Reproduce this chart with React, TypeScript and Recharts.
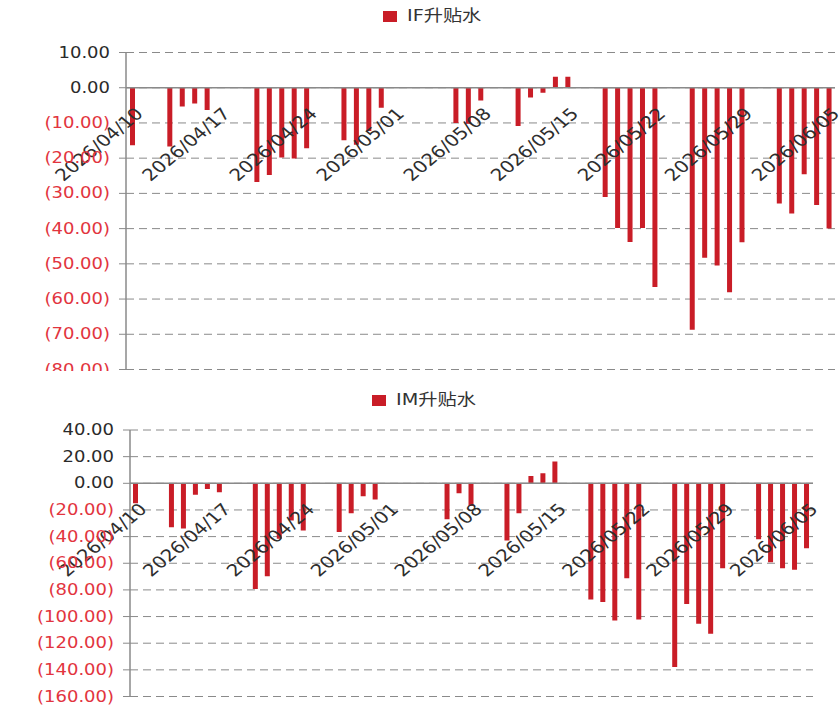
import React from 'react';
import { BarChart, Bar, XAxis, YAxis, CartesianGrid, ReferenceLine, ReferenceDot } from 'recharts';

// Trading days with a quote (weekends and the May holiday stay empty on the axis)
const tradeDates = [
  '2026/04/10',
  '2026/04/13', '2026/04/14', '2026/04/15', '2026/04/16', '2026/04/17',
  '2026/04/20', '2026/04/21', '2026/04/22', '2026/04/23', '2026/04/24',
  '2026/04/27', '2026/04/28', '2026/04/29', '2026/04/30',
  '2026/05/06', '2026/05/07', '2026/05/08',
  '2026/05/11', '2026/05/12', '2026/05/13', '2026/05/14', '2026/05/15',
  '2026/05/18', '2026/05/19', '2026/05/20', '2026/05/21', '2026/05/22',
  '2026/05/25', '2026/05/26', '2026/05/27', '2026/05/28', '2026/05/29',
  '2026/06/01', '2026/06/02', '2026/06/03', '2026/06/04', '2026/06/05',
];

// IF basis (points), aligned with tradeDates
const ifBasis = [
  -16.3,
  -16.7, -5.3, -4.5, -6.3, null,
  -26.8, -24.8, -19.8, -20.1, -17.2,
  -14.9, -16.2, -12.3, -5.7,
  -10.0, -10.2, -3.6,
  -10.9, -2.8, -1.4, 3.1, 3.1,
  -31.0, -39.8, -43.8, -39.8, -56.6,
  -68.7, -48.3, -50.5, -58.1, -43.9,
  -32.9, -35.7, -24.6, -33.3, -40.0,
];

// IM basis (points), aligned with tradeDates
const imBasis = [
  -15.0,
  -33.0, -34.0, -8.5, -4.2, -6.7,
  -79.3, -69.8, -41.6, -28.0, -35.4,
  -36.6, -22.4, -9.7, -12.2,
  -27.0, -7.5, -17.0,
  -43.0, -22.5, 5.5, 7.5, 16.4,
  -87.2, -89.0, -102.9, -71.3, -102.2,
  -137.8, -90.5, -105.4, -112.9, -63.8,
  -42.0, -59.3, -63.8, -64.8, -48.8,
];

const weekLabels = [
  '2026/04/10', '2026/04/17', '2026/04/24', '2026/05/01', '2026/05/08',
  '2026/05/15', '2026/05/22', '2026/05/29', '2026/06/05',
];

const ifTicks = [10, 0, -10, -20, -30, -40, -50, -60, -70, -80];
const imTicks = [40, 20, 0, -20, -40, -60, -80, -100, -120, -140, -160];

const RED = '#C91D27';
const AXIS = '#8a8a8a';
const FONT = '"DejaVu Sans", "Noto Sans CJK SC", sans-serif';

const pad = (n: number) => (n < 10 ? '0' + n : String(n));

// Every calendar day between the first and last trading day
function calendarDays(first: string, last: string): string[] {
  const [fy, fm, fd] = first.split('/').map(Number);
  const d = new Date(fy, fm - 1, fd);
  const out: string[] = [];
  for (;;) {
    const s = `${d.getFullYear()}/${pad(d.getMonth() + 1)}/${pad(d.getDate())}`;
    out.push(s);
    if (s === last) break;
    d.setDate(d.getDate() + 1);
  }
  return out;
}

const days = calendarDays(tradeDates[0], tradeDates[tradeDates.length - 1]);
const rows = days.map((date) => {
  const i = tradeDates.indexOf(date);
  return { date, IF: i >= 0 ? ifBasis[i] : null, IM: i >= 0 ? imBasis[i] : null };
});

function ValueTick(props: any) {
  const { x, y, payload } = props;
  const v = Number(payload.value);
  const neg = v < 0;
  const txt = neg ? `(${Math.abs(v).toFixed(2)})` : v.toFixed(2);
  return (
    <text
      transform={`translate(${x},${y}) scale(1.2,1)`}
      textAnchor="end"
      dy="0.34em"
      fontSize={15}
      fontFamily={FONT}
      fill={neg ? '#E2343E' : '#2a2a2a'}
    >
      {txt}
    </text>
  );
}

// Rotated date label hanging from the zero line
function DateTick(props: any) {
  const vb = props.viewBox || {};
  const x = (vb.x ?? 0) + (vb.width ?? 0) / 2 + 12;
  const y = (vb.y ?? 0) + (vb.height ?? 0) / 2 + 27;
  return (
    <text
      transform={`translate(${x},${y}) scale(1.2,1) rotate(-45)`}
      textAnchor="end"
      fontSize={16.5}
      fontFamily={FONT}
      fill="#2e2e2e"
    >
      {props.text}
    </text>
  );
}

function Legend({ name, left, top }: { name: string; left: number; top: number }) {
  return (
    <div style={{ position: 'absolute', left, top, display: 'flex', alignItems: 'center', height: 20 }}>
      <div style={{ width: 14, height: 11, background: RED, marginRight: 10 }} />
      <div
        style={{
          fontFamily: FONT,
          fontSize: 16,
          color: '#333',
          transform: 'scaleX(1.2)',
          transformOrigin: 'left center',
          whiteSpace: 'nowrap',
          lineHeight: '20px',
        }}
      >
        {name}
      </div>
    </div>
  );
}

function Panel(props: {
  dataKey: string;
  ticks: number[];
  height: number;
  margin: { top: number; right: number; bottom: number; left: number };
  yWidth: number;
}) {
  const { dataKey, ticks, height, margin, yWidth } = props;
  return (
    <BarChart width={839} height={height} data={rows} margin={margin} barCategoryGap={0}>
      <CartesianGrid vertical={false} stroke={AXIS} strokeDasharray="8 5" />
      <XAxis dataKey="date" hide />
      <YAxis
        type="number"
        domain={[ticks[ticks.length - 1], ticks[0]]}
        ticks={ticks}
        interval={0}
        width={yWidth}
        tickSize={7}
        tickMargin={9}
        axisLine={{ stroke: AXIS, strokeWidth: 1.5 }}
        tickLine={{ stroke: AXIS }}
        tick={<ValueTick />}
        allowDataOverflow
      />
      <ReferenceLine y={0} stroke={AXIS} strokeWidth={1.5} />
      <Bar dataKey={dataKey} fill={RED} barSize={5} isAnimationActive={false} />
      {weekLabels.map((d) => (
        <ReferenceDot
          key={d}
          x={d}
          y={0}
          r={0}
          fill="none"
          stroke="none"
          ifOverflow="visible"
          isFront
          label={<DateTick text={d} />}
        />
      ))}
    </BarChart>
  );
}

export default function App() {
  return (
    <div
      style={{
        position: 'absolute',
        left: 0,
        top: 0,
        width: 839,
        height: 705,
        background: '#fff',
        overflow: 'hidden',
      }}
    >
      <div style={{ position: 'absolute', left: 0, top: 0, width: 839, height: 371, overflow: 'hidden' }}>
        <Panel
          dataKey="IF"
          ticks={ifTicks}
          height={380}
          margin={{ top: 52.5, right: 4, bottom: 10.5, left: 0 }}
          yWidth={126}
        />
      </div>
      <Legend name="IF升贴水" left={383} top={6} />
      <div style={{ position: 'absolute', left: 0, top: 380, width: 839, height: 325, overflow: 'hidden' }}>
        <Panel
          dataKey="IM"
          ticks={imTicks}
          height={325}
          margin={{ top: 50, right: 26, bottom: 8.5, left: 0 }}
          yWidth={130}
        />
      </div>
      <Legend name="IM升贴水" left={372} top={390} />
    </div>
  );
}
